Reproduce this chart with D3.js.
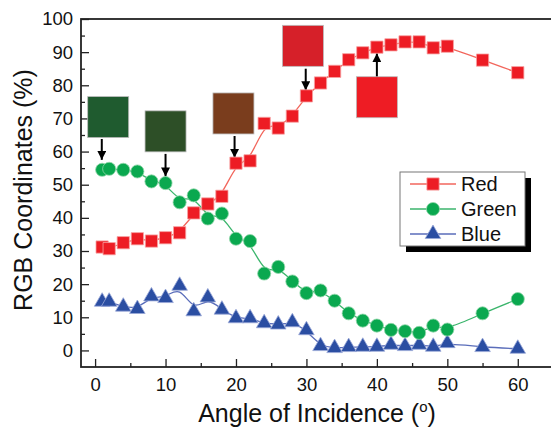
<!DOCTYPE html>
<html>
<head>
<meta charset="utf-8">
<script src="https://cdn.jsdelivr.net/npm/d3@7"></script>
<style>
  body { margin: 0; background: #fff; }
  text { font-family: "Liberation Sans", Arial, sans-serif; fill: #111; }
</style>
</head>
<body>
<div id="chart"></div>
<script>
// data
const angles = [1, 2, 4, 6, 8, 10, 12, 14, 16, 18, 20, 22, 24, 26, 28, 30, 32, 34, 36, 38, 40, 42, 44, 46, 48, 50, 55, 60];
const redValues = [31.2, 30.7, 32.5, 33.7, 33, 34, 35.5, 41.5, 44.2, 46.5, 56.5, 57.2, 68.5, 67.1, 70.7, 76.8, 80.7, 84.2, 87.7, 89.8, 91.5, 92.2, 93.1, 93.1, 91.3, 91.8, 87.6, 83.8];
const greenValues = [54.5, 54.8, 54.5, 54, 51, 50.5, 44.7, 46.8, 39.8, 41.3, 33.7, 33, 23.2, 25.2, 20.8, 17.3, 18.1, 15, 11.2, 9, 7.5, 6.2, 5.8, 5.3, 7.5, 6.3, 11.2, 15.5];
const blueValues = [14.7, 14.7, 13.2, 12.5, 16.3, 15.8, 19.5, 11.8, 16, 12.3, 9.7, 9.7, 8.2, 7.8, 8.5, 6.1, 1.3, 0.7, 1, 1.1, 1.1, 1.7, 1.3, 1.7, 1.1, 2.2, 1, 0.5];
const seriesNames = ['Red', 'Green', 'Blue'];

const yTicks = [0, 10, 20, 30, 40, 50, 60, 70, 80, 90, 100];
const xTicks = [0, 10, 20, 30, 40, 50, 60];

// colour swatches with arrows (positions in data units)
const swatchColors = ['#1f5b2f', '#2d4f27', '#7a3d1d', '#d62029', '#ee1c24'];
const swatchAngle = [1.86, 10, 19.64, 29.5, 40];
const swatchValue = [70.4, 66.1, 71.5, 91.9, 76.4];
const arrowAngle = [0.95, 10, 19.8, 29.9, 40];
const arrowFrom = [63.8, 59.3, 64.7, 85, 82.7];
const arrowTo = [57.5, 52.5, 58.1, 78.5, 89.7];

const svgWidth = 551, svgHeight = 428;
const margin = { top: 19, left: 81, right: -2, bottom: 61 };
const width = 472, height = svgHeight - margin.top - margin.bottom;

const svg = d3.select('#chart').append('svg')
  .attr('width', svgWidth)
  .attr('height', svgHeight);

const chart = svg.append('g')
  .attr('transform', `translate(${margin.left}, ${margin.top})`);

const xScale = d3.scaleLinear().domain([-2, 65]).range([0, width]);
const yScale = d3.scaleLinear().domain([-5, 100]).range([height, 0]);

const styles = {
  Red: { marker: '#ed1c24', line: '#f2665c', outline: '#f7a3a3', symbol: d3.symbolSquare, size: 150 },
  Green: { marker: '#0aa84f', line: '#3bb56c', outline: '#8fd6a8', symbol: d3.symbolCircle, size: 135 },
  Blue: { marker: '#2b4ea2', line: '#5a6dba', outline: '#9aa8d8', symbol: d3.symbolTriangle, size: 105 }
};

// axes with inward ticks
chart.append('g')
  .attr('transform', `translate(0, ${height})`)
  .call(d3.axisBottom(xScale).tickValues(d3.range(5, 66, 10)).tickSize(-4).tickFormat(''));
chart.append('g')
  .attr('transform', `translate(0, ${height})`)
  .call(d3.axisBottom(xScale).tickValues(xTicks).tickSize(-8).tickPadding(10))
  .call(g => g.selectAll('text').attr('font-size', 18.5).attr('dy', '0.75em'));
chart.append('g')
  .call(d3.axisLeft(yScale).tickValues(d3.range(5, 100, 10)).tickSize(-4).tickFormat(''));
chart.append('g')
  .call(d3.axisLeft(yScale).tickValues(yTicks).tickSize(-8).tickPadding(8))
  .call(g => g.selectAll('text').attr('font-size', 18.5));
chart.selectAll('.domain').remove();
chart.selectAll('.tick line').attr('stroke', '#222').attr('stroke-width', 1.3);

chart.append('rect')
  .attr('width', xScale(65) - xScale(-2))
  .attr('height', height)
  .attr('fill', 'none')
  .attr('stroke', '#222')
  .attr('stroke-width', 1.8);

// swatches and arrows
const swSize = 41;
chart.selectAll('.swatch')
  .data(swatchColors)
  .enter()
  .append('rect')
  .attr('x', (d, i) => xScale(swatchAngle[i]) - swSize / 2)
  .attr('y', (d, i) => yScale(swatchValue[i]) - swSize / 2)
  .attr('width', swSize)
  .attr('height', swSize)
  .attr('fill', d => d)
  .attr('stroke', '#bbb')
  .attr('stroke-width', 0.8);

svg.append('defs').append('marker')
  .attr('id', 'head')
  .attr('viewBox', '0 0 10 10')
  .attr('refX', 10).attr('refY', 5)
  .attr('markerWidth', 4.5).attr('markerHeight', 4.5)
  .attr('orient', 'auto-start-reverse')
  .append('path')
  .attr('d', 'M0,0L10,5L0,10Z')
  .attr('fill', '#000');

chart.selectAll('.arrow')
  .data(arrowAngle)
  .enter()
  .append('line')
  .attr('x1', d => xScale(d))
  .attr('x2', d => xScale(d))
  .attr('y1', (d, i) => yScale(arrowFrom[i]))
  .attr('y2', (d, i) => yScale(arrowTo[i]))
  .attr('stroke', '#000')
  .attr('stroke-width', 2)
  .attr('marker-end', 'url(#head)');

// series
const seriesData = [redValues, greenValues, blueValues];
const line = d3.line()
  .x((d, i) => xScale(angles[i]))
  .y(d => yScale(d))
  .curve(d3.curveBasis);

[2, 1, 0].forEach(k => {
  const name = seriesNames[k];
  const st = styles[name];
  chart.append('path')
    .datum(seriesData[k])
    .attr('d', line)
    .attr('fill', 'none')
    .attr('stroke', st.line)
    .attr('stroke-width', 1.3);
  chart.selectAll('.pt' + k)
    .data(seriesData[k])
    .enter()
    .append('path')
    .attr('transform', (d, i) => `translate(${xScale(angles[i])}, ${yScale(d)})`)
    .attr('d', d3.symbol().type(st.symbol).size(st.size))
    .attr('fill', st.marker)
    .attr('stroke', st.outline)
    .attr('stroke-width', 0.8);
});

// legend
const legend = chart.append('g').attr('transform', `translate(${400 - margin.left}, ${172 - margin.top})`);
legend.append('rect').attr('x', 6).attr('y', 6).attr('width', 125).attr('height', 74).attr('fill', '#000');
legend.append('rect').attr('width', 125).attr('height', 74).attr('fill', '#fff').attr('stroke', '#777').attr('stroke-width', 1);
seriesNames.forEach((name, i) => {
  const st = styles[name];
  const ly = 12 + i * 25;
  legend.append('line').attr('x1', 10).attr('x2', 56).attr('y1', ly).attr('y2', ly)
    .attr('stroke', st.line).attr('stroke-width', 1.3);
  legend.append('path')
    .attr('transform', `translate(33, ${ly})`)
    .attr('d', d3.symbol().type(st.symbol).size(st.size))
    .attr('fill', st.marker)
    .attr('stroke', st.outline)
    .attr('stroke-width', 0.8);
  legend.append('text').attr('x', 61).attr('y', ly).attr('dy', '0.35em')
    .attr('font-size', 20).text(name);
});

// axis titles
const xTitle = svg.append('text')
  .attr('x', margin.left + (xScale(65) - xScale(-2)) / 2)
  .attr('y', 422)
  .attr('text-anchor', 'middle')
  .attr('font-size', 25);
xTitle.append('tspan').text('Angle of Incidence (');
xTitle.append('tspan').attr('font-size', 15).attr('dy', -10).text('o');
xTitle.append('tspan').attr('dy', 10).text(')');

svg.append('text')
  .attr('transform', 'translate(32, 190) rotate(-90)')
  .attr('text-anchor', 'middle')
  .attr('font-size', 25)
  .text('RGB Coordinates (%)');
</script>
</body>
</html>
